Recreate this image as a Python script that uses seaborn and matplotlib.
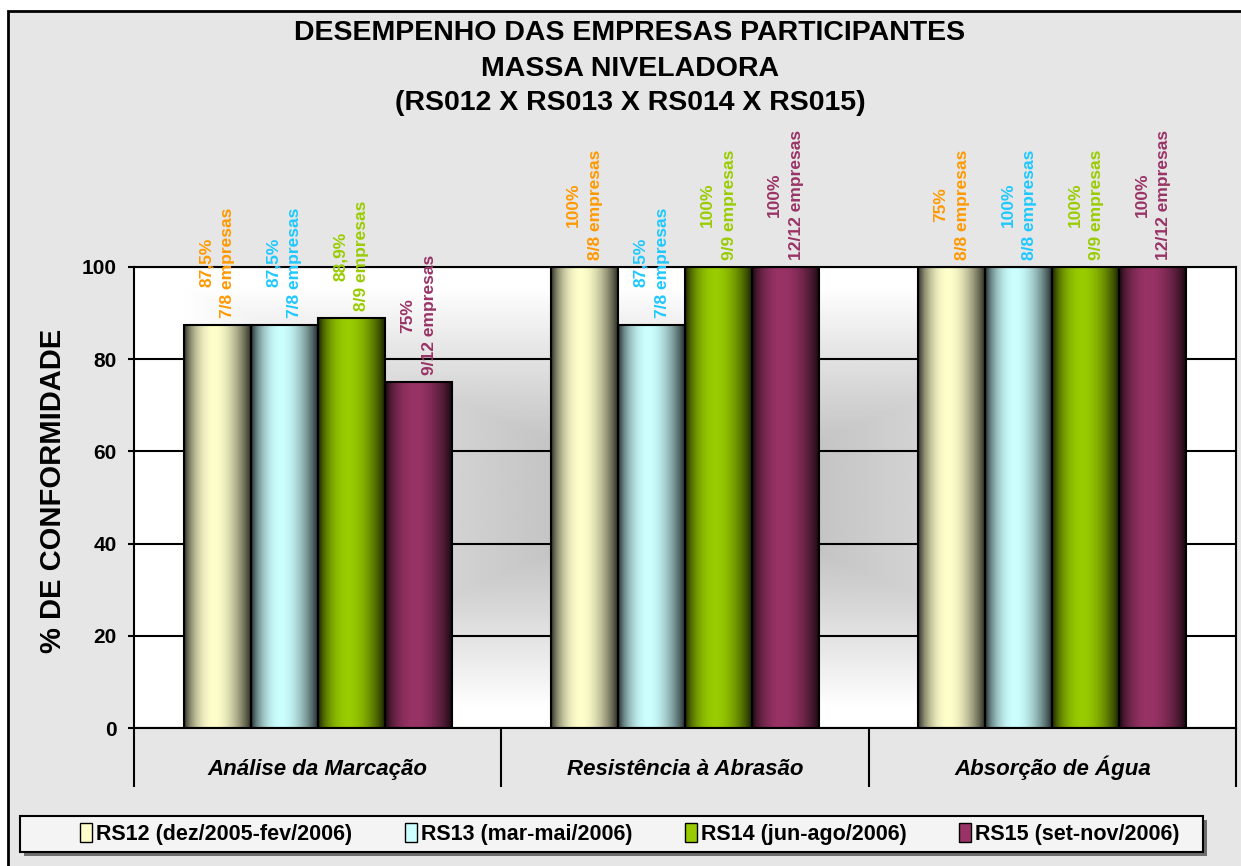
import numpy as np
import pandas as pd
import matplotlib
matplotlib.use("Agg")
import matplotlib.pyplot as plt
import seaborn as sns
from matplotlib.patches import Rectangle, Patch

# ---------------- data ----------------
categories = ["Análise da Marcação", "Resistência à Abrasão", "Absorção de Água"]
series_names = ["RS12 (dez/2005-fev/2006)", "RS13 (mar-mai/2006)",
                "RS14 (jun-ago/2006)", "RS15 (set-nov/2006)"]
rs12_values = [87.5, 100, 100]
rs13_values = [87.5, 87.5, 100]
rs14_values = [88.9, 100, 100]
rs15_values = [75, 100, 100]
rs12_pct = ["87,5%", "100%", "75%"]
rs13_pct = ["87,5%", "87,5%", "100%"]
rs14_pct = ["88,9%", "100%", "100%"]
rs15_pct = ["75%", "100%", "100%"]
rs12_emp = ["7/8 empresas", "8/8 empresas", "8/8 empresas"]
rs13_emp = ["7/8 empresas", "7/8 empresas", "8/8 empresas"]
rs14_emp = ["8/9 empresas", "9/9 empresas", "9/9 empresas"]
rs15_emp = ["9/12 empresas", "12/12 empresas", "12/12 empresas"]
y_ticks = [0, 20, 40, 60, 80, 100]
title_lines = ["DESEMPENHO DAS EMPRESAS PARTICIPANTES", "MASSA NIVELADORA",
               "(RS012 X RS013 X RS014 X RS015)"]
y_label = "% DE CONFORMIDADE"

bar_colors = ["#FFFFCC", "#CCFFFF", "#99CC00", "#993366"]
label_colors = ["#FF9900", "#1EC8FF", "#99CC00", "#993366"]

values = [rs12_values, rs13_values, rs14_values, rs15_values]
pcts = [rs12_pct, rs13_pct, rs14_pct, rs15_pct]
emps = [rs12_emp, rs13_emp, rs14_emp, rs15_emp]

rows = []
for s, vals in zip(series_names, values):
    for c, v in zip(categories, vals):
        rows.append({"categoria": c, "serie": s, "valor": v})
df = pd.DataFrame(rows)

# ---------------- style ----------------
sns.set_theme(style="white")
plt.rcParams["font.family"] = ["Liberation Sans", "DejaVu Sans"]
for key in ["text.color", "axes.labelcolor", "xtick.color", "ytick.color"]:
    plt.rcParams[key] = "black"

W, H = 1241, 866
fig = plt.figure(figsize=(W / 100, H / 100), dpi=100, facecolor="white")
bg = Rectangle((8 / W, -0.1), 1.2, (1 - 11 / H) + 0.1, transform=fig.transFigure,
               facecolor="#E6E6E6", edgecolor="black", lw=2, zorder=-10)
fig.add_artist(bg)

ax = fig.add_axes([134 / W, 1 - 728 / H, 1102 / W, 461 / H])

sns.barplot(data=df, x="categoria", y="valor", hue="serie", order=categories,
            hue_order=series_names, palette=bar_colors, saturation=1,
            width=0.73, gap=0, edgecolor="black", linewidth=1.5, ax=ax,
            legend=False, errorbar=None)

# plot-area gradient background (grey centre, white edges)
nx, ny = 300, 200
X, Y = np.meshgrid(np.linspace(-1, 1, nx), np.linspace(-1, 1, ny))
t = np.maximum(np.abs(X), np.abs(Y))
g = 0.76 + 0.24 * np.clip((t - 0.2) / 0.72, 0, 1) ** 1.1
ax.imshow(g, extent=[-0.5, 2.5, 0, 100], aspect="auto", cmap="gray",
          vmin=0, vmax=1, zorder=0.1, interpolation="bilinear")

# cylinder shading on bars + labels
u = np.linspace(0, 1, 80)
shade = 0.12 + 0.88 * np.sin(np.pi * u ** 0.85) ** 0.8
for i, cont in enumerate(ax.containers):
    base = np.array(matplotlib.colors.to_rgb(bar_colors[i]))
    img = (shade[:, None] * base[None, :])[None, :, :]
    for j, bar in enumerate(cont):
        x0, w, h = bar.get_x(), bar.get_width(), bar.get_height()
        ax.imshow(img, extent=[x0, x0 + w, 0, h], aspect="auto", zorder=1.6,
                  interpolation="bilinear")
        bar.set_facecolor("none")
        bar.set_zorder(2)
        ax.text(x0 + w / 2, h + 1.5, f"{pcts[i][j]}\n{emps[i][j]}", rotation=90,
                ha="center", va="bottom", multialignment="center",
                color=label_colors[i], fontsize=12.5, fontweight="bold",
                linespacing=1.55, clip_on=False, zorder=3)

ax.set_xlim(-0.5, 2.5)
ax.set_ylim(0, 100)

ax.set_yticks(y_ticks)
ax.yaxis.grid(True, color="black", lw=1.5)
ax.set_axisbelow(True)
for sp in ax.spines.values():
    sp.set_visible(True)
    sp.set_color("black")
    sp.set_linewidth(1.5)

ax.set_xticks([0, 1, 2])
ax.set_xticklabels(categories, fontsize=16, fontweight="bold", fontstyle="italic")
for lab in ax.get_xticklabels():
    lab.set_verticalalignment("baseline")
ax.tick_params(axis="x", which="major", length=0, pad=34)
ax.set_xticks([-0.5, 0.5, 1.5, 2.5], minor=True)
ax.tick_params(axis="x", which="minor", length=42.5, width=1.5, color="black",
               direction="out", bottom=True)
ax.tick_params(axis="y", length=4.5, width=1.5, color="black", direction="out",
               pad=8, labelsize=15, left=True)
for lab in ax.get_yticklabels():
    lab.set_fontweight("bold")
ax.set_xlabel("")
ax.set_ylabel(y_label, fontsize=21, fontweight="bold")
ax.yaxis.set_label_coords((67 - 134) / 1102, 0.515)

# title
for k, (line, yy) in enumerate(zip(title_lines, [33, 69, 103])):
    fig.text(630 / W, 1 - yy / H, line, ha="center", va="center",
             fontsize=20.5, fontweight="bold", color="black")

# legend frame (with shadow) and legend entries
fig.add_artist(Rectangle((24 / W, 1 - 856 / H), 1183 / W, 36 / H,
                         transform=fig.transFigure, facecolor="#6E6E6E",
                         edgecolor="none", zorder=4))
fig.add_artist(Rectangle((20 / W, 1 - 852 / H), 1183 / W, 36 / H,
                         transform=fig.transFigure, facecolor="#F4F4F4",
                         edgecolor="black", lw=1.5, zorder=4.5))
handles = [Patch(facecolor=c, edgecolor="black", lw=1) for c in bar_colors]
leg = fig.legend(handles, series_names, loc="center",
                 bbox_to_anchor=(76 / W, 1 - 852 / H, 1108 / W, 36 / H),
                 mode="expand", ncol=4, frameon=False,
                 prop=dict(weight="bold", size=15.5),
                 handlelength=0.55, handleheight=1.0, handletextpad=0.2,
                 borderpad=0.2, borderaxespad=0)
leg.set_zorder(5)

fig.savefig("out.png", dpi=100, facecolor=fig.get_facecolor())
